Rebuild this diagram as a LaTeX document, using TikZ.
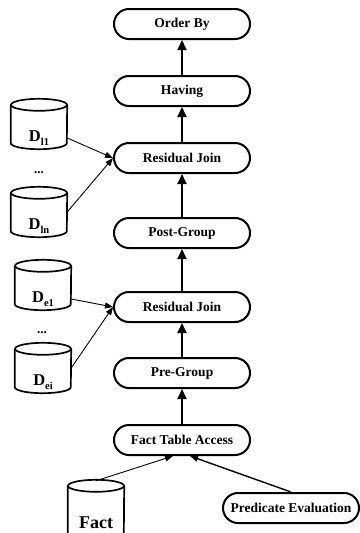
\documentclass[tikz,border=0pt]{standalone}
\usepackage{fontspec}
\setmainfont{Liberation Serif}
\usetikzlibrary{shapes.misc,arrows.meta,calc}
\newcommand\dsub[1]{\raisebox{-3.5pt}{\fontsize{10.5}{10.5}\selectfont #1}}
\newcommand\cylshape[1]{%
  \draw[line width=1.7pt] ($(#1.north west)+(0pt,-6pt)$) -- ($(#1.south west)+(0pt,6pt)$)
     arc[start angle=180,end angle=360,x radius=28pt,y radius=6pt]
     -- ($(#1.north east)+(0pt,-6pt)$);
  \draw[line width=1.7pt] ($(#1.north)+(0pt,-6pt)$) ellipse[x radius=28pt,y radius=6pt];}
\begin{document}
\begin{tikzpicture}[x=1pt,y=-1pt,
 op/.style={rounded rectangle, draw, line width=2pt, minimum width=136pt, minimum height=30pt, inner sep=0pt, font=\fontsize{13.5}{16}\selectfont\bfseries},
 db/.style={rectangle, minimum width=56pt, minimum height=50pt, inner sep=0pt},
 flow/.style={-{Triangle[width=9pt,length=10pt]}, line width=2pt},
 feed/.style={-{Triangle[width=6pt,length=8pt]}, line width=0.9pt},
 lab/.style={font=\fontsize{16.5}{18}\selectfont\bfseries},
 dots/.style={font=\fontsize{13}{14}\selectfont\bfseries}
]
\useasboundingbox (0,0) rectangle (359,533);

\node[op] (ob) at (182,24) {Order By};
\node[op] (hv) at (182,91) {Having};
\node[op] (rj1) at (182,158) {Residual Join};
\node[op] (pg) at (182,233) {Post-Group};
\node[op] (rj2) at (182,307) {Residual Join};
\node[op] (pre) at (182,373) {Pre-Group};
\node[op] (fta) at (182,440) {Fact Table Access};
\node[op] (pe) at (291,508) {Predicate Evaluation};

\node[db, label={[lab,yshift=-14pt]center:{D\dsub{l1}}}] (dl1) at (39,124) {};
\node[dots] (dotsl) at (39,173) {...};
\node[db, label={[lab,yshift=-14pt]center:{D\dsub{ln}}}] (dln) at (39,212) {};
\node[db, label={[lab,yshift=-14pt]center:{D\dsub{e1}}}] (de1) at (43,285) {};
\node[dots] (dotse) at (42,333) {...};
\node[db, label={[lab,yshift=-14pt]center:{D\dsub{ei}}}] (dei) at (43,368) {};
\node[db, minimum height=60pt, label={[font=\fontsize{18}{20}\selectfont\bfseries,yshift=-13pt]center:{Fact}}] (fact) at (96,510) {};
\cylshape{dl1}
\cylshape{dln}
\cylshape{de1}
\cylshape{dei}
\cylshape{fact}

\draw[flow] (hv) -- (ob);
\draw[flow] (rj1) -- (hv);
\draw[flow] (pg) -- (rj1);
\draw[flow] (rj2) -- (pg);
\draw[flow] (pre) -- (rj2);
\draw[flow] (fta) -- (pre);

\draw[feed] ($(dl1.east)+(0pt,-14pt)$) -- (rj1.west);
\draw[feed] (dln.east) -- (rj1.west);
\draw[feed] ($(de1.east)+(0pt,-14pt)$) -- (rj2.west);
\draw[feed] (dei.east) -- (rj2.west);
\draw[feed] ($(fact.north)+(0pt,-1pt)$) -- ($(fta.south)+(-9pt,0pt)$);
\draw[feed, line width=1.4pt] (pe.north) -- ($(fta.south)+(8pt,0pt)$);
\end{tikzpicture}
\end{document}
